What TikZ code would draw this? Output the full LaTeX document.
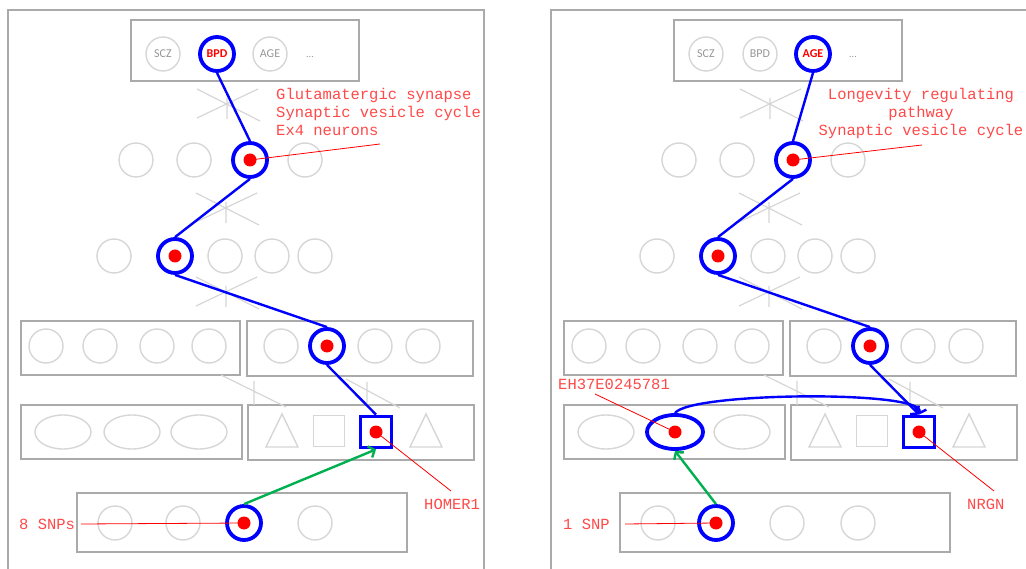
\documentclass[tikz,border=0pt]{standalone}
\usepackage{fontspec}
\newfontfamily\unitfont{Carlito}
\newfontfamily\notefont{Liberation Mono}
\usetikzlibrary{shapes.geometric, arrows.meta}

\definecolor{framegray}{RGB}{170,170,170}
\definecolor{unitgray}{RGB}{214,214,214}
\definecolor{textgray}{RGB}{150,150,150}
\definecolor{notered}{RGB}{255,72,72}
\definecolor{pathgreen}{RGB}{0,176,80}

\begin{document}
\begin{tikzpicture}[
        x=1pt, y=-1pt,
        frame/.style={draw=framegray, line width=1.6pt},
        layerbox/.style={rectangle, draw=framegray, line width=1.6pt, inner sep=0pt},
        unit/.style={circle, draw=unitgray, line width=1.4pt, minimum size=34pt, inner sep=0pt, text=textgray, font=\unitfont\fontsize{12}{12}\selectfont},
        oval/.style={ellipse, draw=unitgray, line width=1.4pt, minimum width=56pt, minimum height=34pt, inner sep=0pt},
        sq/.style={rectangle, draw=unitgray, line width=1.4pt, minimum size=31pt, inner sep=0pt},
        wire/.style={draw=unitgray, line width=1.2pt},
        hl/.style={circle, draw=blue, line width=3.8pt, fill=white, minimum size=34pt, inner sep=0pt},
        hlsq/.style={rectangle, draw=blue, line width=3.8pt, fill=white, minimum size=31pt, inner sep=0pt},
        hloval/.style={ellipse, draw=blue, line width=3.8pt, fill=white, minimum width=56pt, minimum height=34pt, inner sep=0pt},
        dot/.style={circle, fill=red, minimum size=13pt, inner sep=0pt},
        link/.style={draw=blue, line width=2.4pt},
        snp/.style={draw=pathgreen, line width=2.4pt, -{Straight Barb[length=5pt, width=12pt]}},
        note/.style={text=notered, font=\notefont\fontsize{15.5}{18.3}\selectfont, inner sep=0pt},
        pointer/.style={draw=red, line width=0.8pt}
    ]
    \clip (0,0) rectangle (1026,569);

    % Two panels, same network
    \foreach \p/\dx/\sx in {L/0/183, R/543/173} {
    \begin{scope}[xshift=\dx pt]
        \draw[frame] (8,10) rectangle (484,600);

        % Traits
        \node[layerbox, minimum width=228pt, minimum height=61pt] (\p-top) at (245,50.5) {};
        \node[unit] (\p-t1) at (163,54) {SCZ};
        \node[unit] (\p-t2) at (217,54) {BPD};
        \node[unit] (\p-t3) at (270,54) {AGE};
        \node[text=textgray, font=\unitfont\fontsize{10}{10}\selectfont] (\p-more) at (310,57) {...};

        % Hidden layers
        \foreach \x [count=\i] in {136,194,250,305}
            \node[unit] (\p-a\i) at (\x,160) {};
        \foreach \x [count=\i] in {114,175,225,272,315}
            \node[unit] (\p-b\i) at (\x,256) {};

        % Pathways / cell types
        \node[layerbox, minimum width=219pt, minimum height=54pt] (\p-c) at (130.5,348) {};
        \node[layerbox, minimum width=226pt, minimum height=55pt] (\p-cc) at (360,348.5) {};
        \foreach \x [count=\i] in {46,100,157,209,281,327,375,423}
            \node[unit] (\p-c\i) at (\x,346) {};

        % Regulatory elements and genes
        \node[layerbox, minimum width=221pt, minimum height=54pt] (\p-o) at (131.5,432) {};
        \node[layerbox, minimum width=226pt, minimum height=55pt] (\p-g) at (361,432.5) {};
        \foreach \x [count=\i] in {63,132,199}
            \node[oval] (\p-o\i) at (\x,432) {};
        \foreach \x in {282,426}
            \draw[wire, line width=1.4pt] (\x-16,447) -- (\x,414) -- (\x+16,447) -- cycle;
        \node[sq] (\p-s1) at (329,431) {};
        \node[sq] (\p-s2) at (376,432) {};

        % SNPs
        \node[layerbox, minimum width=330pt, minimum height=59pt] (\p-e) at (242,522.5) {};
        \foreach \x [count=\i] in {115,\sx,244,315}
            \node[unit] (\p-e\i) at (\x,523) {};

        % Weights between layers
        \foreach \cx/\cy in {227/104, 226/208, 226/292}
            \draw[wire] (\cx-30,\cy-15) -- (\cx+33,\cy+17)
                (\cx-30,\cy+14) -- (\cx+31,\cy-15)
                (\cx,\cy-6) -- (\cx,\cy+15);
        \draw[wire] (221,375) -- (286,407) (254,381) -- (254,405);
        \draw[wire] (346,379) -- (400,408) (367,382) -- (367,405);
    \end{scope}
    }

    % Left: BPD
    \node[hl, text=red, font=\unitfont\bfseries\fontsize{12}{12}\selectfont] (L-hT) at (L-t2) {BPD};
    \node[hl] (L-h2) at (L-a3) {};
    \node[hl] (L-h3) at (L-b2) {};
    \node[hl] (L-h4) at (L-c6) {};
    \node[hlsq] (L-hsq) at (L-s2) {};
    \node[hl] (L-h6) at (L-e3) {};
    \draw[link] (L-hT.south) -- (L-h2.north);
    \draw[link] (L-h2.south) -- (L-h3.north);
    \draw[link] (L-h3.south) -- (L-h4.north);
    \draw[link] (L-h4.south) -- (L-hsq.north);
    \draw[snp] (L-h6.north) -- (L-hsq.south);

    % Right: AGE
    \node[hl, text=red, font=\unitfont\bfseries\fontsize{12}{12}\selectfont] (R-hT) at (R-t3) {AGE};
    \node[hl] (R-h2) at (R-a3) {};
    \node[hl] (R-h3) at (R-b2) {};
    \node[hl] (R-h4) at (R-c6) {};
    \node[hlsq] (R-hsq) at (R-s2) {};
    \node[hloval] (R-hel) at (R-o2) {};
    \node[hl] (R-h6) at (R-e2) {};
    \draw[link] (R-hT.south) -- (R-h2.north);
    \draw[link] (R-h2.south) -- (R-h3.north);
    \draw[link] (R-h3.south) -- (R-h4.north);
    \draw[link, -{Straight Barb[length=5pt, width=12pt]}] (R-h4.south) -- (R-hsq.north);
    \draw[link, -{Straight Barb[length=5pt, width=12pt]}] (R-hel.north) .. controls (690,392) and (925,390) .. (R-hsq.north);
    \draw[snp] (R-h6.north) -- (R-hel.south);

    % Labels
    \node[note, anchor=base west, align=left] (L-n1) at (276,136) {Glutamatergic synapse\\Synaptic vesicle cycle\\Ex4 neurons};
    \node[note, anchor=base west] (L-n2) at (424,509) {HOMER1};
    \node[note, anchor=base west] (L-n3) at (19,529) {8 SNPs};
    \node[note, anchor=base, align=center] (R-n1) at (921,136) {Longevity regulating\\pathway\\Synaptic vesicle cycle};
    \node[note, anchor=base west] (R-n2) at (558,390) {EH37E0245781};
    \node[note, anchor=base west] (R-n3) at (967,509) {NRGN};
    \node[note, anchor=base west] (R-n4) at (563,529) {1 SNP};

    \coordinate (L-p1) at (380,144);
    \coordinate (L-p2) at (451,491);
    \coordinate (L-p3) at (81,524);
    \coordinate (R-p1) at (922,145);
    \coordinate (R-p2) at (595,394);
    \coordinate (R-p3) at (994,491);
    \coordinate (R-p4) at (625,524);
    \draw[pointer] (L-p1) -- (L-h2.center);
    \draw[pointer] (L-p2) -- (L-hsq.center);
    \draw[pointer] (L-p3) -- (L-h6.center);
    \draw[pointer] (R-p1) -- (R-h2.center);
    \draw[pointer] (R-p2) -- (R-hel.center);
    \draw[pointer] (R-p3) -- (R-hsq.center);
    \draw[pointer] (R-p4) -- (R-h6.center);

    % Active units
    \foreach \n in {L-h2, L-h3, L-h4, L-hsq, L-h6, R-h2, R-h3, R-h4, R-hsq, R-hel, R-h6}
        \node[dot] (\n-dot) at (\n) {};
\end{tikzpicture}
\end{document}
